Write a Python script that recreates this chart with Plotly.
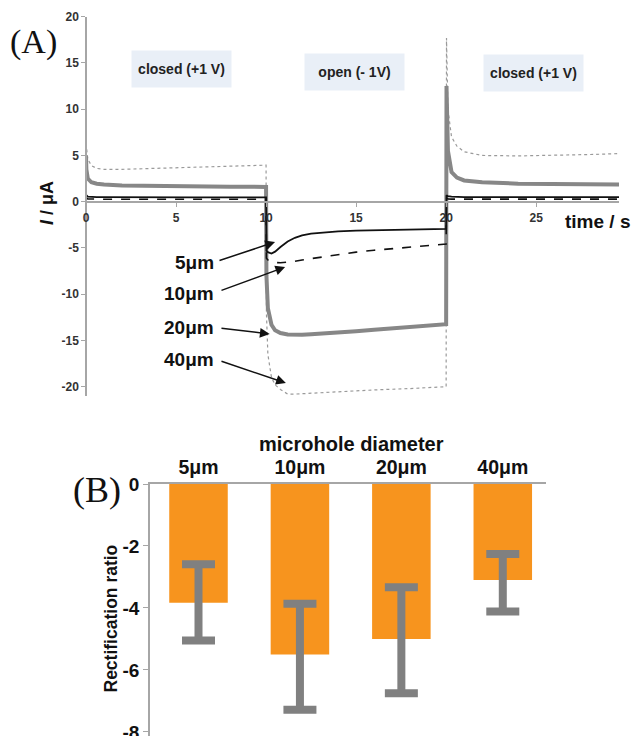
import plotly.graph_objects as go

W, H = 634, 736

# ---------------- Panel A data (time / s, current / uA) ----------------
t = [0, 0.02, 0.1, 0.3, 0.6, 1, 2, 4, 6, 8, 10,
     10.02, 10.1, 10.3, 10.5, 10.8, 11.2, 11.6, 12, 12.5, 13, 14, 15, 16, 17, 18, 19, 20,
     20.02, 20.1, 20.3, 20.6, 21, 22, 24, 26, 28, 29.6]

i_5um = [0.8, 0.7, 0.55, 0.5, 0.5, 0.5, 0.48, 0.47, 0.47, 0.47, 0.47,
         -5.3, -5.45, -5.6, -5.4, -4.9, -4.3, -3.9, -3.65, -3.45, -3.35, -3.2, -3.12, -3.08, -3.04, -3.0, -2.98, -2.95,
         0.7, 0.6, 0.55, 0.52, 0.5, 0.5, 0.5, 0.5, 0.5, 0.5]

i_10um = [0.5, 0.4, 0.3, 0.28, 0.28, 0.27, 0.27, 0.27, 0.27, 0.27, 0.27,
          -6.1, -6.3, -6.5, -6.58, -6.6, -6.55, -6.45, -6.3, -6.15, -6.0, -5.7, -5.45, -5.25, -5.1, -4.95, -4.75, -4.58,
          0.4, 0.3, 0.28, 0.28, 0.28, 0.28, 0.28, 0.28, 0.28, 0.28]

i_20um = [5.0, 3.5, 2.5, 2.1, 1.95, 1.85, 1.75, 1.68, 1.65, 1.62, 1.6,
          -8.0, -11.5, -13.3, -13.9, -14.2, -14.35, -14.4, -14.38, -14.33, -14.28, -14.15, -14.0, -13.85, -13.7, -13.55, -13.4, -13.25,
          12.5, 5.5, 3.2, 2.6, 2.3, 2.1, 1.95, 1.9, 1.88, 1.85]

i_40um = [7.6, 6.0, 4.6, 3.9, 3.6, 3.5, 3.5, 3.6, 3.7, 3.85, 3.95,
          -12.0, -16.5, -19.0, -19.8, -20.3, -20.8, -20.8, -20.75, -20.7, -20.65, -20.55, -20.45, -20.35, -20.3, -20.2, -20.1, -20.0,
          17.7, 10.0, 7.0, 6.0, 5.4, 5.0, 4.95, 5.0, 5.1, 5.2]

a_xticks = [0, 5, 10, 15, 20, 25]
a_yticks = [-20, -15, -10, -5, 0, 5, 10, 15, 20]
a_ytick_text = ["-20", "-15", "-10", "-5", "0", "5", "10", "15", "20"]
phase_labels = ["closed (+1 V)", "open (- 1V)", "closed (+1 V)"]
curve_labels = ["5\u03bcm", "10\u03bcm", "20\u03bcm", "40\u03bcm"]

# ---------------- Panel B data ----------------
diam = ["5\u03bcm", "10\u03bcm", "20\u03bcm", "40\u03bcm"]
ratio = [-3.83, -5.5, -5.0, -3.1]
err_up = [1.24, 1.64, 1.67, 0.84]
err_down = [1.22, 1.78, 1.75, 1.01]
b_yticks = [0, -2, -4, -6, -8]
b_ytick_text = ["0", "-2", "-4", "-6", "-8"]

# ---------------- helpers ----------------
def px(x):
    return x / W

def py(y):
    return 1 - y / H

A_YR = [-21, 20]
A_TOP, A_BOT = 16.7, 16.7 + 41 * 9.25
a_dom_y = [py(A_BOT), py(A_TOP)]
a_x_pos = a_dom_y[0] + (0 - A_YR[0]) / (A_YR[1] - A_YR[0]) * (a_dom_y[1] - a_dom_y[0])

AX = "#a6a6a6"
FONT = "Liberation Sans, Arial, sans-serif"

fig = go.Figure()

fig.add_trace(go.Scatter(x=t, y=i_40um, mode="lines", line=dict(color="#9a9a9a", width=1.2, dash="dot"),
                         xaxis="x", yaxis="y", showlegend=False))
fig.add_trace(go.Scatter(x=t, y=i_20um, mode="lines", line=dict(color="#878787", width=4),
                         xaxis="x", yaxis="y", showlegend=False))
fig.add_trace(go.Scatter(x=t, y=i_10um, mode="lines", line=dict(color="#111111", width=1.6, dash="dash"),
                         xaxis="x", yaxis="y", showlegend=False))
fig.add_trace(go.Scatter(x=t, y=i_5um, mode="lines", line=dict(color="#111111", width=1.8),
                         xaxis="x", yaxis="y", showlegend=False))

fig.add_trace(go.Bar(x=diam, y=ratio, width=0.577, marker=dict(color="#F7941E", line=dict(width=0)),
                     error_y=dict(type="data", symmetric=False, array=err_up, arrayminus=err_down,
                                  color="#808080", thickness=8, width=16.5),
                     xaxis="x2", yaxis="y2", showlegend=False))

# Panel B x geometry (category centres at 198.5 px, spacing 101.4 px)
B_C0, B_S = 198.5, 101.43
B_L, B_R = 150, 546
b_x_rng = [(B_L - B_C0) / B_S, (B_R - B_C0) / B_S]

fig.update_layout(
    template="none",
    width=W, height=H,
    margin=dict(l=0, r=0, t=0, b=0, pad=0),
    paper_bgcolor="white", plot_bgcolor="rgba(0,0,0,0)",
    font=dict(family=FONT, color="#222222"),
    xaxis=dict(domain=[px(86), px(619)], range=[0, 29.6], anchor="free", position=a_x_pos,
               automargin=False,
               showgrid=False, zeroline=False, showline=True, linecolor=AX, linewidth=1.5,
               ticks="outside", ticklen=5, tickcolor=AX, tickvals=a_xticks,
               tickfont=dict(size=12, weight="bold", color="#333333")),
    yaxis=dict(domain=a_dom_y, range=A_YR, anchor="free", position=px(86),
               automargin=False,
               showgrid=False, zeroline=False, showline=True, linecolor=AX, linewidth=1.5,
               ticks="outside", ticklen=4, tickcolor=AX, tickvals=a_yticks, ticktext=a_ytick_text,
               tickfont=dict(size=12, weight="bold", color="#333333")),
    xaxis2=dict(domain=[px(B_L), px(B_R)], range=b_x_rng, anchor="y2", side="top",
                automargin=False,
                showgrid=False, zeroline=False, showline=True, linecolor=AX, linewidth=1.5,
                ticks="", tickfont=dict(size=19.5, weight="bold", color="#111111")),
    yaxis2=dict(domain=[0, py(484)], range=[-8.13, 0], anchor="x2",
                automargin=False, ticklabeloverflow="allow",
                showgrid=False, zeroline=False, showline=True, linecolor=AX, linewidth=1.5,
                ticks="outside", ticklen=5, tickcolor=AX, tickvals=b_yticks, ticktext=b_ytick_text,
                tickfont=dict(size=19, weight="bold", color="#111111")),
)

ann = []
# panel letters
ann.append(dict(x=px(33.5), y=py(41.5), xref="paper", yref="paper", text="(A)", showarrow=False,
                xanchor="center", yanchor="middle",
                font=dict(family="Liberation Serif, Times New Roman, serif", size=34, color="#111111")))
ann.append(dict(x=px(96.5), y=py(490), xref="paper", yref="paper", text="(B)", showarrow=False,
                xanchor="center", yanchor="middle",
                font=dict(family="Liberation Serif, Times New Roman, serif", size=36, color="#111111")))
# axis titles
ann.append(dict(x=px(47), y=py(203), xref="paper", yref="paper", text="<i>I</i> / \u03bcA", showarrow=False,
                xanchor="center", yanchor="middle",
                textangle=-90, font=dict(size=18, weight="bold", color="#111111")))
ann.append(dict(x=px(110.5), y=py(619), xref="paper", yref="paper", text="Rectification ratio", showarrow=False,
                xanchor="center", yanchor="middle",
                textangle=-90, font=dict(size=17.5, weight="bold", color="#111111")))
ann.append(dict(x=px(351), y=py(444), xref="paper", yref="paper", text="microhole diameter", showarrow=False,
                xanchor="center", yanchor="middle",
                font=dict(size=20, weight="bold", color="#111111")))
# time / s
ann.append(dict(x=px(632), y=py(222), xref="paper", yref="paper", text="time / s", showarrow=False,
                xanchor="right", yanchor="middle", font=dict(size=19, weight="bold", color="#111111")))
# phase boxes
for lab, cx, cy in zip(phase_labels, [181.5, 354.5, 533.5], [69, 71.5, 73]):
    ann.append(dict(x=px(cx), y=py(cy), xref="paper", yref="paper", text=lab, showarrow=False,
                    xanchor="center", yanchor="middle",
                    width=99, height=36, borderpad=0, bgcolor="#E9EFF7",
                    font=dict(size=14, weight="bold", color="#222222")))
# curve labels
for lab, cy in zip(curve_labels, [262, 294, 327, 359]):
    ann.append(dict(x=px(216), y=py(cy), xref="paper", yref="paper", text=lab, showarrow=False,
                    xanchor="right", yanchor="middle", font=dict(size=19, weight="bold", color="#111111")))
# arrows (tip, tail in data coords)
arrows = [((10.5, -4.36), (7.33, -6.41)),
          ((11.06, -7.06), (7.44, -9.65)),
          ((10.2, -14.3), (7.44, -13.65)),
          ((11.1, -19.6), (7.44, -17.2))]
for (tx, ty), (sx, sy) in arrows:
    ann.append(dict(x=tx, y=ty, xref="x", yref="y", ax=sx, ay=sy, axref="x", ayref="y",
                    text="", showarrow=True, arrowhead=2, arrowsize=1.3, arrowwidth=1.5,
                    arrowcolor="#111111"))

fig.update_layout(annotations=ann)
fig.write_html("out.html", config={"displayModeBar": False},
               post_script="document.body.style.margin='0px';document.body.style.padding='0px';"
                           "document.documentElement.style.overflow='hidden';")
